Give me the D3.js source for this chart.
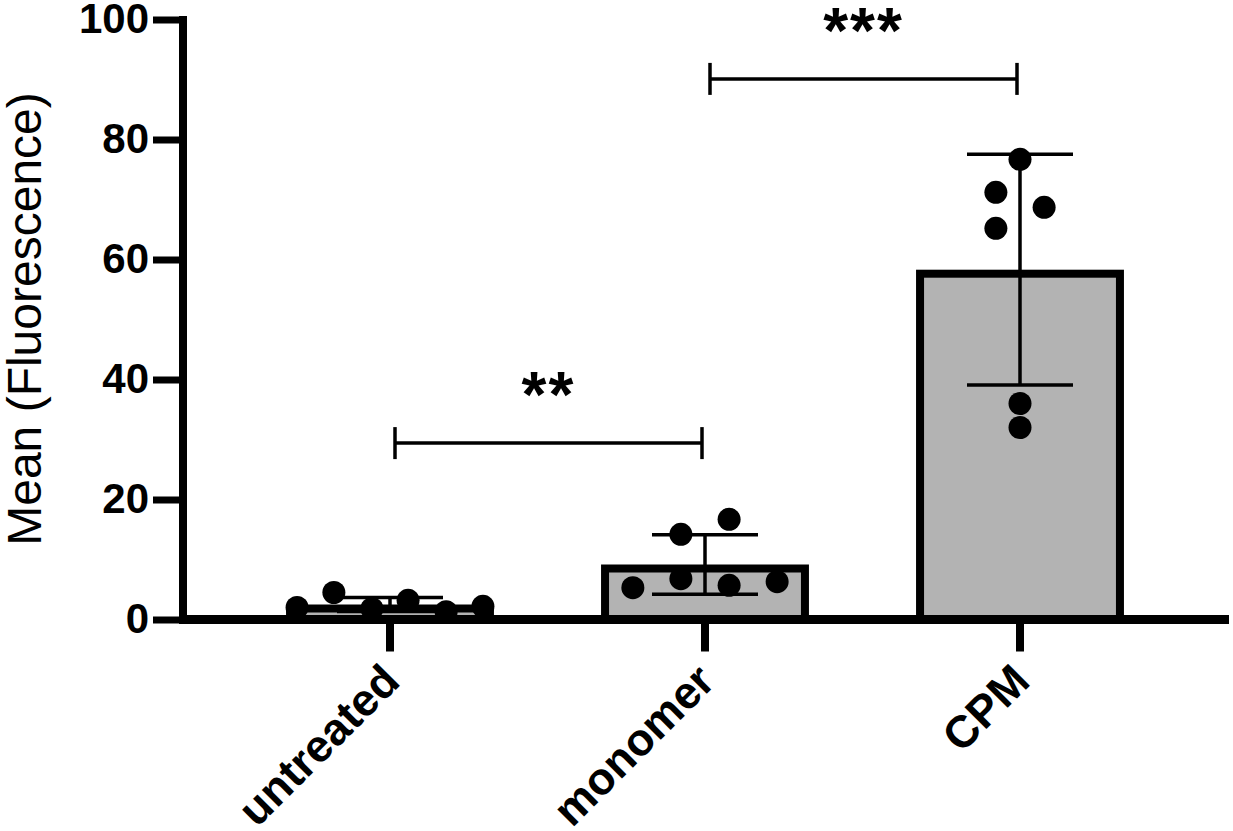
<!DOCTYPE html>
<html>
<head>
<meta charset="utf-8">
<script src="https://cdn.jsdelivr.net/npm/d3@7/dist/d3.min.js"></script>
<style>
  html, body { margin: 0; padding: 0; background: #fff; }
  svg { display: block; font-family: "Liberation Sans", Arial, sans-serif; }
</style>
</head>
<body>
<svg id="chart" width="1233" height="831"></svg>
<script>
// ---- data ----
const categories = ["untreated", "monomer", "CPM"];
const untreatedValues = [2.0, 4.5, 1.8, 3.2, 1.3, 2.2];
const monomerValues = [5.3, 14.2, 6.8, 16.7, 5.7, 6.3];
const cpmValues = [76.7, 71.2, 68.7, 65.2, 36.0, 32.0];
// horizontal scatter of the points, as a fraction of bar width
const untreatedJitter = [-0.447, -0.27, -0.087, 0.087, 0.27, 0.447];
const monomerJitter = [-0.347, -0.116, -0.116, 0.116, 0.116, 0.347];
const cpmJitter = [0, -0.116, 0.116, -0.116, 0, 0];
const yTicks = [0, 20, 40, 60, 80, 100];
const yLabel = "Mean (Fluorescence)";
// significance brackets
const sigFrom = ["untreated", "monomer"];
const sigTo = ["monomer", "CPM"];
const sigLevel = [29.4, 90.1];
const sigText = ["**", "***"];

const groups = [
  { name: categories[0], values: untreatedValues, jitter: untreatedJitter },
  { name: categories[1], values: monomerValues, jitter: monomerJitter },
  { name: categories[2], values: cpmValues, jitter: cpmJitter }
];
groups.forEach(g => { g.mean = d3.mean(g.values); g.sd = d3.deviation(g.values); });

// ---- layout ----
const svg = d3.select("#chart");
const x = d3.scaleBand().domain(categories).range([232.5, 1177.5])
  .paddingInner(0.34).paddingOuter(0.17);
const y = d3.scaleLinear().domain([0, 100]).range([619.5, 19.5]);
const bw = x.bandwidth();
const cx = c => x(c) + bw / 2;
const barStroke = 8;

// bars
svg.append("g").selectAll("rect").data(groups).join("rect")
  .attr("x", d => x(d.name) + barStroke / 2)
  .attr("y", d => y(d.mean) + barStroke / 2)
  .attr("width", bw - barStroke)
  .attr("height", d => Math.max(0, y(0) - y(d.mean) - barStroke / 2))
  .attr("fill", "#b3b3b3")
  .attr("stroke", "#000")
  .attr("stroke-width", barStroke);

// error bars
const eb = svg.append("g").attr("stroke", "#000").attr("stroke-width", 3.5);
const capHalf = 53;
groups.forEach(g => {
  const c = cx(g.name);
  const hi = y(g.mean + g.sd), lo = y(g.mean - g.sd);
  eb.append("line").attr("x1", c).attr("x2", c).attr("y1", hi).attr("y2", lo);
  eb.append("line").attr("x1", c - capHalf).attr("x2", c + capHalf).attr("y1", hi).attr("y2", hi);
  eb.append("line").attr("x1", c - capHalf).attr("x2", c + capHalf).attr("y1", lo).attr("y2", lo);
});

// axes
const axisW = 8;
const yAxis = d3.axisLeft(y).tickValues(yTicks).tickSize(30).tickPadding(4).tickSizeOuter(0);
const gy = svg.append("g").attr("transform", "translate(183,0)").call(yAxis);
gy.select(".domain").attr("stroke-width", axisW).attr("d", `M0,${y(100) - 3.5}V${y(0) + 4}`);
gy.selectAll(".tick line").attr("stroke-width", 7);
gy.selectAll(".tick text").attr("font-size", 42).attr("font-weight", "bold")
  .attr("font-family", "'Liberation Sans', Arial, sans-serif").attr("fill", "#000");

const xAxis = d3.axisBottom(x).tickSize(32).tickPadding(0).tickSizeOuter(0);
const gx = svg.append("g").attr("transform", `translate(0,${y(0)})`).call(xAxis);
gx.select(".domain").attr("stroke-width", 9).attr("d", `M${183 - 4},0H1229`);
gx.selectAll(".tick line").attr("stroke-width", 8);
gx.selectAll(".tick text")
  .attr("font-size", 45).attr("font-weight", "bold")
  .attr("font-family", "'Liberation Sans', Arial, sans-serif").attr("fill", "#000")
  .attr("text-anchor", "end").attr("dy", null)
  .attr("transform", "translate(12,64) rotate(-45)")
  .attr("x", 0).attr("y", 0);

// points
const pts = svg.append("g");
groups.forEach(g => {
  pts.selectAll(null).data(g.values).join("circle")
    .attr("cx", (v, i) => cx(g.name) + g.jitter[i] * bw)
    .attr("cy", v => y(v))
    .attr("r", 11.5)
    .attr("fill", "#000");
});

// significance brackets
const br = svg.append("g");
sigLevel.forEach((lvl, i) => {
  const x1 = cx(sigFrom[i]) + 5, x2 = cx(sigTo[i]) - 3, yy = y(lvl);
  const g = br.append("g").attr("stroke", "#000").attr("stroke-width", 3.5);
  g.append("line").attr("x1", x1).attr("x2", x2).attr("y1", yy).attr("y2", yy);
  g.append("line").attr("x1", x1).attr("x2", x1).attr("y1", yy - 16).attr("y2", yy + 16);
  g.append("line").attr("x1", x2).attr("x2", x2).attr("y1", yy - 16).attr("y2", yy + 16);
  br.append("text").attr("x", (x1 + x2) / 2).attr("y", yy - 26)
    .attr("text-anchor", "middle").attr("font-size", 64).attr("font-weight", "bold")
    .attr("letter-spacing", 2)
    .text(sigText[i]);
});

// y axis title
svg.append("text")
  .attr("transform", "translate(41,319) rotate(-90)")
  .attr("text-anchor", "middle")
  .attr("font-size", 48)
  .attr("fill", "#000")
  .text(yLabel);
</script>
</body>
</html>
